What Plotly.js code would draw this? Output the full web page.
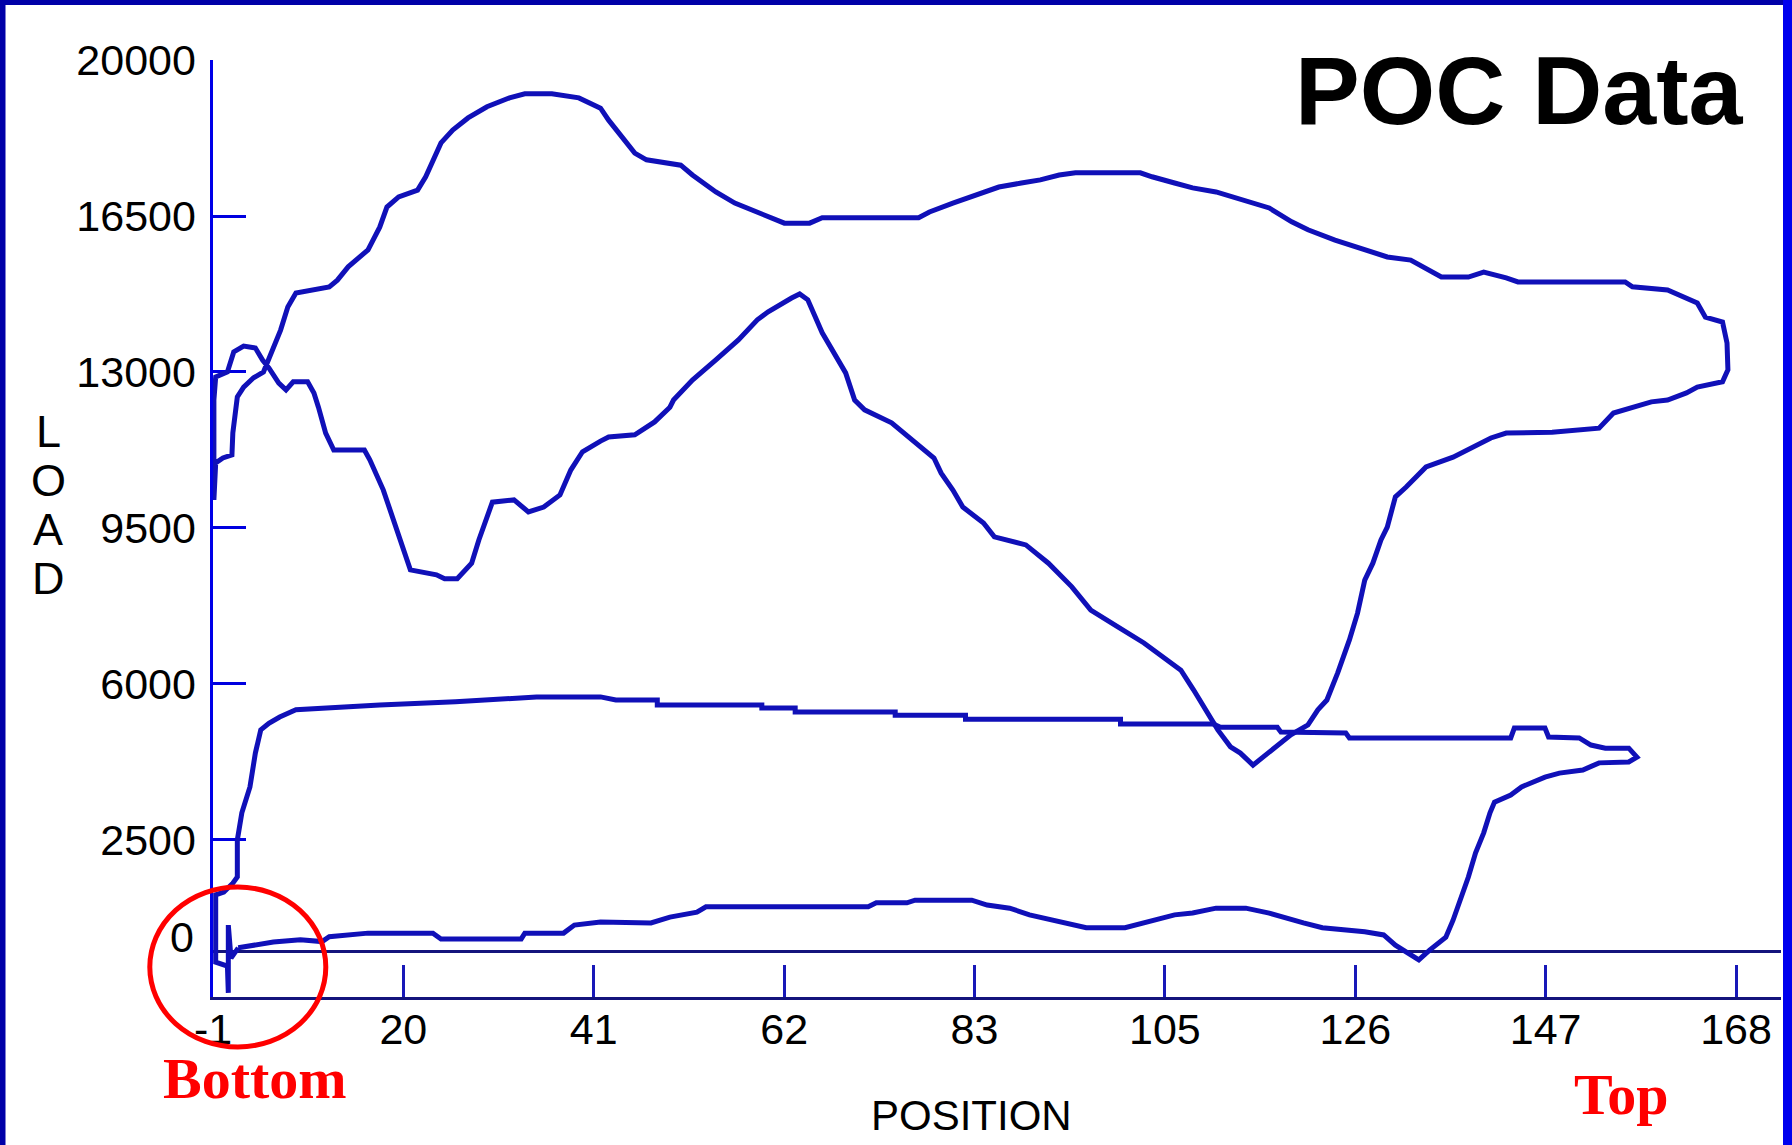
<!DOCTYPE html>
<html>
<head>
<meta charset="utf-8">
<script src="https://cdn.plot.ly/plotly-3.0.1.min.js"></script>
<style>
  html, body { margin: 0; padding: 0; background: #ffffff; }
  #chart { width: 1792px; height: 1145px; }
</style>
</head>
<body>
<div id="chart"></div>
<script>
// Surface card (upper loop): polished-rod position vs load
const surfacePosition = [
  -0.9, -0.7, 0.1, 1.1, 1.2, 1.5, 1.7, 2.4, 3.5, 4.6, 5.6, 6.5, 7.3, 8.2, 11.9, 12.8, 14.0, 16.2, 17.5, 18.3,
  19.6, 21.7, 22.6, 24.3, 25.6, 27.3, 29.4, 31.9, 33.6, 36.6, 39.6, 42.0, 42.9, 45.8, 47.1, 50.9, 52.2, 54.8, 56.9, 59.4,
  62.4, 65.2, 66.6, 77.3, 78.5, 81.1, 84.5, 86.2, 88.7, 90.8, 92.9, 94.7, 101.9, 103.2, 105.7, 107.7, 110.3, 113.2, 116.2, 118.7,
  120.5, 123.5, 126.3, 129.3, 131.9, 133.2, 135.3, 138.3, 140.0, 142.5, 143.8, 155.7, 156.5, 160.4, 162.1, 163.7, 164.6, 166.5, 167.0, 167.1,
  166.5, 163.7, 162.5, 160.4, 158.6, 154.4, 152.8, 147.6, 142.5, 140.8, 136.6, 133.6, 131.4, 130.2, 129.3, 128.6, 127.7, 126.8, 126.0, 125.1,
  123.8, 122.6, 121.6, 120.5, 118.6, 117.5, 115.2, 114.4, 113.0, 111.9, 110.5, 109.4, 107.8, 106.4, 104.8, 102.3, 99.4, 96.4, 94.3, 91.7,
  89.2, 85.7, 84.5, 82.2, 81.1, 79.8, 79.0, 76.9, 74.3, 71.3, 70.2, 69.2, 67.9, 66.6, 65.0, 64.1, 63.2, 60.6, 59.4, 57.3,
  54.8, 52.2, 50.1, 49.7, 48.0, 45.8, 42.9, 42.0, 40.0, 38.7, 37.5, 35.7, 34.0, 32.4, 30.0, 29.4, 28.5, 27.7, 26.1, 24.7,
  23.8, 20.9, 19.6, 18.7, 17.9, 16.4, 15.8, 12.4, 11.5, 10.7, 10.2, 9.5, 7.9, 7.1, 6.3, 5.2, 4.5, 3.7, 2.4, 1.3,
  0.6, -0.7, -0.9, -0.9
];
const surfaceLoad = [
  10130, 10960, 11070, 11140, 11630, 12080, 12440, 12660, 12870, 13000, 13490, 13940, 14460, 14770, 14910, 15060, 15360, 15740, 16250, 16700,
  16930, 17080, 17380, 18140, 18430, 18700, 18950, 19150, 19240, 19240, 19150, 18920, 18650, 17910, 17760, 17640, 17420, 17040, 16790, 16590,
  16340, 16340, 16460, 16460, 16590, 16790, 17040, 17150, 17240, 17310, 17420, 17470, 17470, 17380, 17240, 17130, 17040, 16860, 16680, 16370,
  16190, 15960, 15780, 15580, 15510, 15360, 15130, 15130, 15240, 15110, 15020, 15020, 14910, 14840, 14680, 14550, 14230, 14120, 13650, 13050,
  12780, 12660, 12530, 12370, 12330, 12080, 11740, 11650, 11630, 11520, 11090, 10870, 10420, 10200, 9520, 9230, 8710, 8330, 7590, 6990,
  6250, 5640, 5420, 5080, 4860, 4680, 4290, 4180, 4450, 4590, 4970, 5350, 5870, 6310, 6540, 6920, 7280, 7660, 8180, 8710,
  9120, 9300, 9610, 9970, 10350, 10730, 11070, 11410, 11860, 12150, 12370, 12980, 13430, 13880, 14620, 14750, 14660, 14350, 14170, 13720,
  13270, 12820, 12370, 12210, 11880, 11590, 11540, 11450, 11210, 10800, 10240, 9970, 9860, 10130, 10080, 9750, 9230, 8710, 8360, 8360,
  8450, 8560, 9300, 9840, 10350, 11030, 11250, 11250, 11630, 12210, 12530, 12780, 12780, 12600, 12750, 13090, 13270, 13540, 13580, 13450,
  13000, 12890, 12370, 10130
];

// Downhole (pump) card (lower loop)
const downholePosition = [
  1.8, 3.5, 5.7, 8.7, 11.1, 11.9, 16.2, 23.4, 24.3, 33.2, 33.6, 37.9, 39.1, 42.0, 47.6, 49.7, 52.7, 53.7, 71.7, 72.6,
  76.0, 76.9, 83.2, 84.9, 87.4, 89.6, 93.4, 95.9, 100.2, 102.7, 105.7, 107.7, 110.3, 113.6, 116.2, 120.0, 122.1, 126.8, 128.9, 130.2,
  132.8, 134.0, 135.8, 136.6, 137.4, 138.3, 139.1, 140.0, 140.7, 141.2, 143.0, 144.2, 146.8, 148.4, 151.0, 152.8, 156.1, 157.0, 156.1, 153.5,
  151.9, 150.6, 147.2, 146.8, 143.4, 143.0, 125.1, 124.7, 117.5, 117.1, 110.8, 110.0, 99.7, 99.7, 82.5, 82.5, 74.7, 74.7, 63.6, 63.6,
  59.9, 59.9, 48.3, 48.3, 43.7, 42.0, 34.9, 25.9, 17.5, 10.7, 8.2, 6.4, 5.2, 4.3, 3.7, 3.1, 2.2, 1.7, 1.7, 1.2,
  0.2, -0.7, -0.7, 0.6, 0.7, 0.7, 1.0, 1.8
];
const downholeLoad = [
  80, 140, 210, 260, 220, 330, 410, 410, 280, 280, 410, 410, 590, 660, 640, 770, 880, 1000, 1000, 1090,
  1090, 1150, 1150, 1040, 970, 820, 660, 530, 530, 660, 820, 860, 970, 970, 860, 640, 530, 440, 370, 140,
  -190, 30, 320, 700, 1150, 1670, 2210, 2660, 3110, 3350, 3510, 3690, 3910, 4000, 4070, 4230, 4250, 4360, 4560, 4560,
  4630, 4790, 4810, 5010, 5010, 4790, 4790, 4900, 4920, 5030, 5030, 5100, 5100, 5210, 5210, 5300, 5300, 5370, 5370, 5460,
  5460, 5530, 5530, 5640, 5640, 5710, 5710, 5600, 5530, 5460, 5420, 5260, 5120, 4970, 4450, 3690, 3110, 2500, 1670, 1530,
  1330, 1270, -240, -330, -930, 590, -150, 80
];

// Axis ticks
const xTickValues = [-1, 20.125, 41.25, 62.375, 83.5, 104.625, 125.75, 146.875, 168];
const xTickLabels = ['-1', '20', '41', '62', '83', '105', '126', '147', '168'];
const yTickValues = [2500, 6000, 9500, 13000, 16500, 20000];
const yTickLabels = ['2500', '6000', '9500', '13000', '16500', '20000'];

// Page geometry (pixels)
const W = 1792, H = 1145;
const M = { l: 213, r: 11, t: 60, b: 148 };
const plotW = W - M.l - M.r;
const plotH = H - M.t - M.b;
const fx = p => (p - M.l) / plotW;          // pixel x -> paper
const fy = p => (H - M.b - p) / plotH;      // pixel y -> paper

const cardColor = '#1010b8';
const labelFont = { family: 'Liberation Sans Narrow, Arial Narrow, Liberation Sans, Arial, sans-serif', size: 43, color: '#000000' };

const traces = [
  { x: surfacePosition, y: surfaceLoad, type: 'scatter', mode: 'lines', name: 'Surface',
    line: { color: cardColor, width: 5 }, hoverinfo: 'skip' },
  { x: downholePosition, y: downholeLoad, type: 'scatter', mode: 'lines', name: 'Downhole',
    line: { color: cardColor, width: 5 }, hoverinfo: 'skip' }
];

function letter(t, yPix) {
  return { text: t, xref: 'paper', yref: 'paper', x: fx(48), y: fy(yPix), xanchor: 'center', yanchor: 'middle',
           showarrow: false, font: Object.assign({}, labelFont, { size: 45 }) };
}

const layout = {
  width: W, height: H,
  margin: M,
  paper_bgcolor: '#ffffff', plot_bgcolor: '#ffffff',
  showlegend: false,
  xaxis: {
    range: [-1, 172.99], autorange: false, fixedrange: true,
    tickmode: 'array', tickvals: xTickValues, ticktext: xTickLabels,
    ticks: 'inside', ticklen: 32, tickwidth: 3, tickcolor: '#1818b8',
    showline: true, linecolor: '#14147c', linewidth: 3,
    showgrid: false, zeroline: false, automargin: false,
    tickfont: labelFont, ticklabelstandoff: -8, layer: 'below traces'
  },
  yaxis: {
    range: [-1023, 20000], autorange: false, fixedrange: true,
    tickmode: 'array', tickvals: yTickValues, ticktext: yTickLabels,
    ticks: 'inside', ticklen: 33, tickwidth: 3, tickcolor: '#0000e0',
    showline: true, linecolor: '#0000e8', linewidth: 3.5,
    showgrid: false, zeroline: true, zerolinecolor: '#14147c', zerolinewidth: 3,
    automargin: false, tickfont: labelFont, ticklabelstandoff: 5, layer: 'below traces'
  },
  shapes: [
    // frame
    { type: 'rect', xref: 'paper', yref: 'paper', x0: fx(0), x1: fx(5.5), y0: fy(H), y1: fy(0),
      fillcolor: '#0000a8', line: { width: 0 }, layer: 'above' },
    { type: 'rect', xref: 'paper', yref: 'paper', x0: fx(0), x1: fx(W), y0: fy(5), y1: fy(0),
      fillcolor: '#0000a8', line: { width: 0 }, layer: 'above' },
    { type: 'rect', xref: 'paper', yref: 'paper', x0: fx(1783), x1: fx(W), y0: fy(H), y1: fy(0),
      fillcolor: '#0000ee', line: { width: 0 }, layer: 'above' },
    // bottom-of-stroke marker
    { type: 'circle', xref: 'paper', yref: 'paper', x0: fx(149.8), x1: fx(325.8), y0: fy(1047), y1: fy(887),
      line: { color: '#ff0000', width: 5 }, fillcolor: 'rgba(0,0,0,0)', layer: 'above' }
  ],
  annotations: [
    { text: '<b>POC Data</b>', xref: 'paper', yref: 'paper', x: fx(1745), y: fy(91), xanchor: 'right', yanchor: 'middle',
      showarrow: false, font: { family: 'Liberation Sans, Arial, Helvetica, sans-serif', size: 97, color: '#000000' } },
    { text: 'POSITION', xref: 'paper', yref: 'paper', x: fx(971), y: fy(1115), xanchor: 'center', yanchor: 'middle',
      showarrow: false, font: Object.assign({}, labelFont, { size: 42 }) },
    letter('L', 431), letter('O', 480), letter('A', 529), letter('D', 578),
    { text: '0', xref: 'paper', yref: 'paper', x: fx(196), y: fy(937), xanchor: 'right', yanchor: 'middle',
      showarrow: false, font: labelFont },
    { text: '<b>Bottom</b>', xref: 'paper', yref: 'paper', x: fx(254.5), y: fy(1078), xanchor: 'center', yanchor: 'middle',
      showarrow: false, font: { family: 'Liberation Serif, Times New Roman, serif', size: 58, color: '#ff0000' } },
    { text: '<b>Top</b>', xref: 'paper', yref: 'paper', x: fx(1621.5), y: fy(1094), xanchor: 'center', yanchor: 'middle',
      showarrow: false, font: { family: 'Liberation Serif, Times New Roman, serif', size: 58, color: '#ff0000' } }
  ]
};

Plotly.newPlot('chart', traces, layout, { displayModeBar: false, staticPlot: true });
</script>
</body>
</html>
